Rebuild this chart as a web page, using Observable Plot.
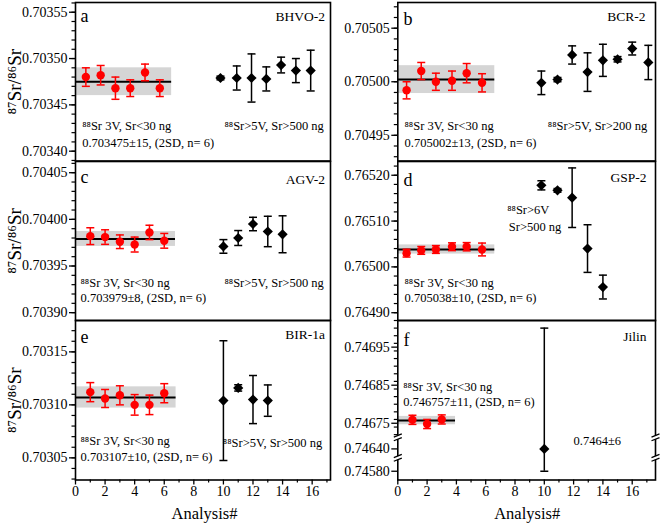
<!DOCTYPE html>
<html>
<head>
<meta charset="utf-8">
<script src="https://cdn.jsdelivr.net/npm/d3@7"></script>
<script src="https://cdn.jsdelivr.net/npm/@observablehq/plot@0.6"></script>
<style>
  html, body { margin: 0; padding: 0; background: #fff; }
  #chart { position: relative; width: 661px; height: 523px; overflow: hidden; background: #fff;
           font-family: "Liberation Serif", "Times New Roman", serif; }
  #chart svg { position: absolute; }
  #chart svg text { font-family: "Liberation Serif", "Times New Roman", serif; }
</style>
</head>
<body>
<div id="chart"></div>
<script>
// ---------------- DATA (errors in units of 1e-6) ----------------
// a — BHVO-2
const bhvoRedX = [0.7, 1.7, 2.7, 3.7, 4.7, 5.7];
const bhvoRedY = [0.703480, 0.703482, 0.703468, 0.703468, 0.703485, 0.703468];
const bhvoRedErr = [10, 10.5, 12, 9, 9, 9];
const bhvoBlackX = [9.8, 10.9, 11.9, 12.9, 13.9, 14.9, 15.9];
const bhvoBlackY = [0.703479, 0.703479, 0.703479, 0.703478, 0.703493, 0.703487, 0.703487];
const bhvoBlackErr = [2, 13, 26, 13, 8.5, 13, 22];
const bhvoMean = [0.703475, 15];
const bhvoTicks = [0.70340, 0.70345, 0.70350, 0.70355];

// b — BCR-2
const bcrRedX = [0.6, 1.6, 2.6, 3.7, 4.7, 5.75];
const bcrRedY = [0.704992, 0.705010, 0.705000, 0.705001, 0.705008, 0.704999];
const bcrRedErr = [8, 8, 8, 9, 9, 8.5];
const bcrBlackX = [9.8, 10.9, 11.9, 12.95, 14.0, 15.0, 16.0, 17.1];
const bcrBlackY = [0.704999, 0.705002, 0.705025, 0.705009, 0.705020, 0.705021, 0.705031, 0.705018];
const bcrBlackErr = [11, 2, 8.5, 18, 15, 2.5, 6, 16];
const bcrMean = [0.705002, 13];
const bcrTicks = [0.70495, 0.70500, 0.70505];

// c — AGV-2
const agvRedX = [1, 2, 3, 4, 5, 6];
const agvRedY = [0.703982, 0.703981, 0.703976, 0.703973, 0.703986, 0.703977];
const agvRedErr = [9, 7.8, 7.3, 8, 7.7, 7.9];
const agvBlackX = [10, 11, 12, 13, 14];
const agvBlackY = [0.703971, 0.703980, 0.703995, 0.703987, 0.703984];
const agvBlackErr = [7.3, 8, 7.2, 16.3, 19.8];
const agvMean = [0.703979, 8];
const agvTicks = [0.70390, 0.70395, 0.70400, 0.70405];

// d — GSP-2
const gspRedX = [0.6, 1.6, 2.6, 3.7, 4.7, 5.75];
const gspRedY = [0.765030, 0.765036, 0.765038, 0.765044, 0.765044, 0.765038];
const gspRedErr = [8.5, 8.5, 8.5, 8.5, 9, 14];
const gspBlackX = [9.8, 10.9, 11.9, 12.95, 14.0];
const gspBlackY = [0.765178, 0.765167, 0.765151, 0.765040, 0.764956];
const gspBlackErr = [10, 4, 65, 52, 26];
const gspMean = [0.765038, 10];
const gspTicks = [0.76490, 0.76500, 0.76510, 0.76520];

// e — BIR-1a
const birRedX = [1, 2, 3, 4, 5, 6];
const birRedY = [0.703112, 0.703106, 0.703109, 0.703100, 0.703100, 0.703111];
const birRedErr = [9, 8.5, 9, 9.7, 9.2, 9];
const birBlackX = [10, 11, 12, 13];
const birBlackY = [0.703104, 0.703116, 0.703105, 0.703104];
const birBlackErr = [56.5, 3, 22.7, 14.8];
const birMean = [0.703107, 10];
const birTicks = [0.70305, 0.70310, 0.70315];

// f — Jilin (broken axis)
const jilinRedX = [1, 2, 3];
const jilinRedY = [0.746759, 0.746748, 0.746760];
const jilinRedErr = [12, 12, 12];
const jilinBlackX = [10];
const jilinBlackY = [0.7464];
const jilinBlackErr = [600];
const jilinMean = [0.746757, 11];
const jilinTicks = [0.74580, 0.74640, 0.74675, 0.74685, 0.74695];
const jilinSegments = [0.745669, 0.7460, 0.7464, 0.746713, 0.747020]; // axis break points
const jilinBreaks = [0.7460, 0.746713];

const xTicks = [0, 2, 4, 6, 8, 10, 12, 14, 16];
const xMinorTicks = [1, 3, 5, 7, 9, 11, 13, 15, 17];

// text
const letters = ["a", "b", "c", "d", "e", "f"];
const names = ["BHVO-2", "BCR-2", "AGV-2", "GSP-2", "BIR-1a", "Jilin"];
const lowText = "⁸⁸Sr 3V, Sr<30 ng";
const meanTexts = ["0.703475±15, (2SD, n= 6)", "0.705002±13, (2SD, n= 6)", "0.703979±8, (2SD, n= 6)",
                   "0.705038±10, (2SD, n= 6)", "0.703107±10, (2SD, n= 6)", "0.746757±11, (2SD, n= 6)"];
const highTexts = ["⁸⁸Sr>5V, Sr>500 ng", "⁸⁸Sr>5V, Sr>200 ng", "⁸⁸Sr>5V, Sr>500 ng",
                   ["⁸⁸Sr>6V", "Sr>500 ng"], "⁸⁸Sr>5V, Sr>500 ng", "0.7464±6"];
const yLabel = "⁸⁷Sr/⁸⁶Sr";
const xLabel = "Analysis#";

// ---------------- LAYOUT / STYLE ----------------
const FONT = "Liberation Serif";
const RED = "#ff0000";
const BAND = "#d5d5d5";
const COLS = [
  {left: 0, width: 333, ml: 75, mr: 3, xmax: 17.24},
  {left: 330, width: 331, ml: 67.3, mr: 6, xmax: 17.59}
];
const ROWS = [
  {top: 0, height: 161.5, mt: 2, mb: 1},
  {top: 159.5, height: 161, mt: 1, mb: 1},
  {top: 318.5, height: 204.5, mt: 1, mb: 44}
];
// display distances (px from panel bottom) of the Jilin axis break points
const jilinDisplay = [0, 22.2, 31.2, 42.8, 160];

const CAP = {draw(ctx, size) { const r = Math.sqrt(size / Math.PI); ctx.moveTo(-r, 0); ctx.lineTo(r, 0); }};
const ERASE = {draw(ctx, size) { const r = Math.sqrt(size / Math.PI); ctx.rect(-r, -1.8, 2 * r, 3.6); }};
const BREAK = {draw(ctx, size) {
  const r = Math.sqrt(size / Math.PI);
  ctx.moveTo(-r, -1.8 + r * 0.4); ctx.lineTo(r, -1.8 - r * 0.4);
  ctx.moveTo(-r, 1.8 + r * 0.4); ctx.lineTo(r, 1.8 - r * 0.4);
}};

const panels = [
  {redX: bhvoRedX, redY: bhvoRedY, redErr: bhvoRedErr, blackX: bhvoBlackX, blackY: bhvoBlackY, blackErr: bhvoBlackErr,
   mean: bhvoMean, ticks: bhvoTicks, minorStep: 1e-5, col: 0, row: 0,
   domain: [0.7033894, 0.7035605], bandEnd: 6.5,
   letterPos: [5, 19.7], namePos: [-5.5, 18.7], lowPos: [6.7, 127.5, 144.5], highPos: [-6.7, 127.5, "end"]},
  {redX: bcrRedX, redY: bcrRedY, redErr: bcrRedErr, blackX: bcrBlackX, blackY: bcrBlackY, blackErr: bcrBlackErr,
   mean: bcrMean, ticks: bcrTicks, minorStep: 1e-5, col: 1, row: 0,
   domain: [0.704926, 0.705074], bandEnd: 6.62,
   letterPos: [5.7, 22], namePos: [-10, 18.7], lowPos: [6.7, 127.5, 144], highPos: [-8.3, 127.5, "end"]},
  {redX: agvRedX, redY: agvRedY, redErr: agvRedErr, blackX: agvBlackX, blackY: agvBlackY, blackErr: agvBlackErr,
   mean: agvMean, ticks: agvTicks, minorStep: 1e-5, col: 0, row: 1,
   domain: [0.7038916, 0.704062], bandEnd: 6.76,
   letterPos: [5, 21.2], namePos: [-5.5, 22.5], lowPos: [5, 125.5, 140.5], highPos: [-6.7, 125.5, "end"]},
  {redX: gspRedX, redY: gspRedY, redErr: gspRedErr, blackX: gspBlackX, blackY: gspBlackY, blackErr: gspBlackErr,
   mean: gspMean, ticks: gspTicks, minorStep: 2e-5, col: 1, row: 1,
   domain: [0.764883, 0.765230], bandEnd: 6.62,
   letterPos: [5.7, 24.5], namePos: [-9, 20.5], lowPos: [6.7, 125.5, 140.5], highPos: [109.4, 52, "start", 69]},
  {redX: birRedX, redY: birRedY, redErr: birRedErr, blackX: birBlackX, blackY: birBlackY, blackErr: birBlackErr,
   mean: birMean, ticks: birTicks, minorStep: 1e-5, col: 0, row: 2,
   domain: [0.7030291, 0.7031796], bandEnd: 6.8,
   letterPos: [5, 22.2], namePos: [-5.5, 18.8], lowPos: [5, 124.5, 140], highPos: [-8.3, 126.5, "end"]},
  {redX: jilinRedX, redY: jilinRedY, redErr: jilinRedErr, blackX: jilinBlackX, blackY: jilinBlackY, blackErr: jilinBlackErr,
   mean: jilinMean, ticks: jilinTicks, minorStep: 2e-5, col: 1, row: 2,
   segments: jilinSegments, display: jilinDisplay,
   bandEnd: 3.94, breaks: jilinBreaks, minorDomain: [0.74671, 0.74702],
   letterPos: [5.7, 25.5], namePos: [-9, 20], lowPos: [5.4, 70.5, 85.5], highPos: [175.7, 124, "start"]}
];

const fmt5 = d3.format(".5f");

function label(str, anchor, dx, dy, size, textAnchor) {
  return Plot.text([str], {text: d => d, frameAnchor: anchor, dx, dy, lineAnchor: "bottom",
    textAnchor: textAnchor, fontSize: size, fontFamily: FONT, fill: "#000"});
}

const chart = document.getElementById("chart");

panels.forEach((p, i) => {
  const C = COLS[p.col], R = ROWS[p.row];
  // value -> y-scale input (identity, or piecewise for the broken axis)
  const brk = p.segments ? d3.scaleLinear().domain(p.segments).range(p.display) : null;
  const Y = brk ? (v => brk(v)) : (v => v);
  const domain = brk ? [p.display[0], p.display[p.display.length - 1]] : p.domain;
  const tickFmt = brk ? (v => fmt5(brk.invert(v))) : fmt5;

  const red = p.redX.map((x, k) => ({x, y: p.redY[k], e: p.redErr[k] * 1e-6}));
  const black = p.blackX.map((x, k) => ({x, y: p.blackY[k], e: p.blackErr[k] * 1e-6}));
  const [m, sd] = p.mean;
  const lo = m - sd * 1e-6, hi = m + sd * 1e-6;
  const dmin = p.minorDomain ? p.minorDomain[0] : p.domain[0];
  const dmax = p.minorDomain ? p.minorDomain[1] : p.domain[p.domain.length - 1];
  const minor = d3.range(Math.ceil(dmin / p.minorStep - 1e-6), Math.floor(dmax / p.minorStep + 1e-6) + 1)
    .map(k => k * p.minorStep);

  const errorBars = (data, color) => [
    Plot.ruleX(data, {x: "x", y1: d => Y(d.y - d.e), y2: d => Y(d.y + d.e), stroke: color, strokeWidth: 1.5}),
    Plot.dot(data, {x: "x", y: d => Y(d.y - d.e), symbol: CAP, r: 4, stroke: color, strokeWidth: 1.5, fill: "none"}),
    Plot.dot(data, {x: "x", y: d => Y(d.y + d.e), symbol: CAP, r: 4, stroke: color, strokeWidth: 1.5, fill: "none"})
  ];

  const marks = [
    Plot.rect([p], {x1: () => 0, x2: () => p.bandEnd, y1: () => Y(lo), y2: () => Y(hi), fill: BAND}),
    Plot.ruleY([m], {x1: () => 0, x2: () => p.bandEnd, y: d => Y(d), stroke: "#000", strokeWidth: 2}),
    errorBars(red, RED),
    Plot.dot(red, {x: "x", y: d => Y(d.y), r: 4.2, fill: RED}),
    errorBars(black, "#000"),
    Plot.dot(black, {x: "x", y: d => Y(d.y), r: 4.6, symbol: "diamond2", fill: "#000"}),
    Plot.frame({stroke: "#000", strokeWidth: 1.6}),
    Plot.axisY({ticks: p.ticks.map(Y), tickFormat: tickFmt, tickSize: 6, tickPadding: 2, fontSize: 14,
      fontFamily: FONT, strokeWidth: 1.3, label: null, fill: "#000", stroke: "#000"}),
    Plot.axisY({ticks: minor.map(Y), tickFormat: () => "", tickSize: 3.5, strokeWidth: 1.2, label: null, stroke: "#000"}),
    label(letters[i], "top-left", p.letterPos[0], p.letterPos[1], 18, "start"),
    label(names[i], "top-right", p.namePos[0], p.namePos[1], 13.5, "end"),
    label(lowText, "top-left", p.lowPos[0], p.lowPos[1], 12.5, "start"),
    label(meanTexts[i], "top-left", p.lowPos[0], p.lowPos[2], 12.5, "start")
  ];
  const ht = highTexts[i];
  const hp = p.highPos;
  if (Array.isArray(ht)) {
    marks.push(label(ht[0], "top-left", hp[0], hp[1], 12.5, "start"));
    marks.push(label(ht[1], "top-left", hp[0] + 1.6, hp[3], 12.5, "start"));
  } else {
    marks.push(label(ht, hp[2] === "end" ? "top-right" : "top-left", hp[0], hp[1], 12.5, hp[2]));
  }
  if (p.breaks) {
    const br = [];
    p.breaks.forEach(b => { br.push({x: 0, y: b}); br.push({x: C.xmax, y: b}); });
    marks.push(Plot.dot(br, {x: "x", y: d => Y(d.y), symbol: ERASE, r: 3.2, fill: "#fff", stroke: "none"}));
    marks.push(Plot.dot(br, {x: "x", y: d => Y(d.y), symbol: BREAK, r: 4, stroke: "#000", strokeWidth: 1.3, fill: "none"}));
  }
  if (p.col === 0) {
    marks.push(Plot.text([yLabel], {text: d => d, frameAnchor: "left", dx: -54.5, rotate: -90,
      lineAnchor: "bottom", textAnchor: "middle", fontSize: 19, fontFamily: FONT, fill: "#000"}));
  }
  if (p.row === 2) {
    marks.push(Plot.axisX({ticks: xTicks, tickSize: 5, tickPadding: 1, fontSize: 14, fontFamily: FONT, strokeWidth: 1.3,
      label: null, tickFormat: d3.format("d"), fill: "#000", stroke: "#000"}));
    marks.push(Plot.axisX({ticks: xMinorTicks.filter(t => t <= C.xmax), tickSize: 3, tickFormat: () => "",
      strokeWidth: 1.2, label: null, stroke: "#000"}));
    marks.push(label(xLabel, "bottom", p.col === 0 ? 1.5 : 0.5, 38.5, 16.5, "middle"));
  }

  const svg = Plot.plot({
    width: C.width, height: R.height,
    marginLeft: C.ml, marginRight: C.mr, marginTop: R.mt, marginBottom: R.mb,
    x: {domain: [0, C.xmax], axis: p.row === 2 ? undefined : null},
    y: {domain},
    style: {fontFamily: FONT, fontSize: "14px", background: "transparent", color: "#000", overflow: "visible"},
    marks
  });
  svg.style.left = C.left + "px";
  svg.style.top = R.top + "px";
  chart.appendChild(svg);
});
</script>
</body>
</html>
